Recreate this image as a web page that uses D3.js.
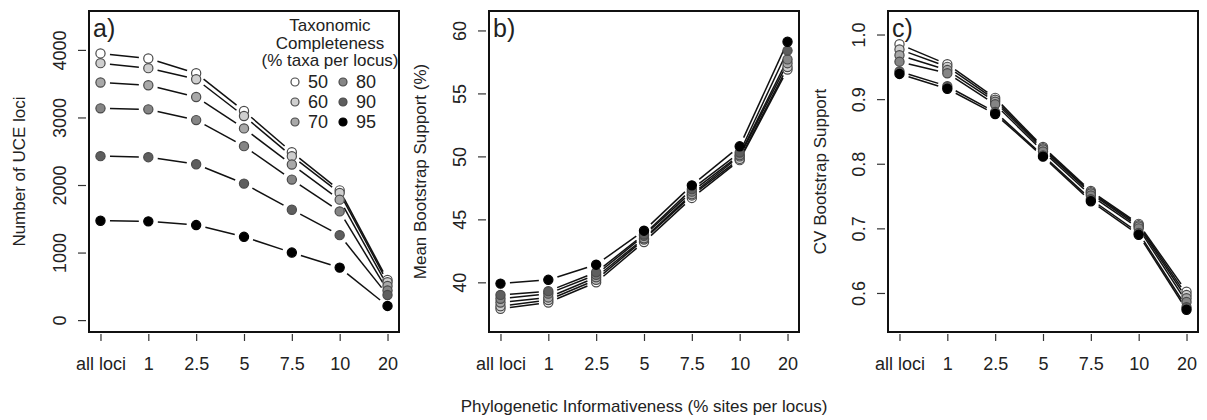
<!DOCTYPE html>
<html>
<head>
<meta charset="utf-8">
<script src="https://cdn.jsdelivr.net/npm/d3@7"></script>
<style>
  html, body { margin: 0; padding: 0; background: #fff; }
  svg { display: block; }
  text { font-family: "Liberation Sans", Arial, Helvetica, sans-serif; fill: #222; }
</style>
</head>
<body>
<svg id="fig" width="1207" height="420"></svg>
<script>
// Phylogenetic informativeness bins (x categories)
const categories = ["all loci", "1", "2.5", "5", "7.5", "10", "20"];

// Taxonomic completeness levels (% taxa per locus)
const completeness = [50, 60, 70, 80, 90, 95];
const fills = ["#ffffff", "#cfcfcf", "#a8a8a8", "#858585", "#5e5e5e", "#000000"];

// a) Number of UCE loci
const loci50 = [3948, 3873, 3655, 3095, 2486, 1921, 594];
const loci60 = [3804, 3730, 3566, 3021, 2427, 1883, 560];
const loci70 = [3517, 3477, 3303, 2838, 2303, 1783, 505];
const loci80 = [3135, 3120, 2961, 2575, 2080, 1609, 440];
const loci90 = [2427, 2412, 2308, 2021, 1634, 1258, 371];
const loci95 = [1471, 1462, 1407, 1233, 1000, 777, 210];

// b) Mean bootstrap support (%)
const mean50 = [37.9, 38.4, 40.0, 43.2, 46.7, 49.7, 56.9];
const mean60 = [38.1, 38.6, 40.2, 43.4, 46.9, 49.8, 57.1];
const mean70 = [38.4, 38.8, 40.4, 43.5, 47.0, 50.0, 57.4];
const mean80 = [38.7, 39.1, 40.6, 43.7, 47.2, 50.1, 57.7];
const mean90 = [39.0, 39.3, 40.8, 43.8, 47.4, 50.3, 58.4];
const mean95 = [39.9, 40.2, 41.4, 44.1, 47.7, 50.8, 59.1];

// c) Coefficient of variation of bootstrap support
const cv50 = [0.985, 0.954, 0.902, 0.826, 0.758, 0.707, 0.602];
const cv60 = [0.977, 0.950, 0.899, 0.824, 0.756, 0.705, 0.597];
const cv70 = [0.968, 0.945, 0.896, 0.822, 0.754, 0.703, 0.592];
const cv80 = [0.958, 0.940, 0.892, 0.819, 0.751, 0.700, 0.586];
const cv90 = [0.943, 0.920, 0.880, 0.813, 0.745, 0.693, 0.578];
const cv95 = [0.939, 0.916, 0.877, 0.811, 0.742, 0.690, 0.574];

// Axis ticks and limits
const ticksA = [0, 1000, 2000, 3000, 4000];
const ticksB = [40, 45, 50, 55, 60];
const ticksC = [0.6, 0.7, 0.8, 0.9, 1.0];
const limA = [0, 4400];
const limB = [37, 60.6];
const limC = [0.558, 1.018];

const panels = [
  { tag: "a)", left: 89,  title: "Number of UCE loci",          titleX: 19,  tickX: 60,
    series: [loci50, loci60, loci70, loci80, loci90, loci95], lim: limA, ticks: ticksA, fmt: d3.format("d") },
  { tag: "b)", left: 489, title: "Mean Bootstrap Support (%)",  titleX: 420, tickX: 460,
    series: [mean50, mean60, mean70, mean80, mean90, mean95], lim: limB, ticks: ticksB, fmt: d3.format("d") },
  { tag: "c)", left: 888, title: "CV Bootstrap Support",        titleX: 820, tickX: 859,
    series: [cv50, cv60, cv70, cv80, cv90, cv95], lim: limC, ticks: ticksC, fmt: d3.format(".1f") }
];

const plotTop = 11, plotBottom = 332, plotWidth = 310;
const R = 4.6, GAP = 9.5;
const svg = d3.select("#fig");

// R-style 4% padding around axis limits
function padded(lim) {
  const d = lim[1] - lim[0];
  return [lim[0] - 0.04 * d, lim[1] + 0.04 * d];
}

panels.forEach(p => {
  const g = svg.append("g");
  const x = d3.scaleLinear().domain([-0.24, categories.length - 1 + 0.24]).range([p.left, p.left + plotWidth]);
  const y = d3.scaleLinear().domain(padded(p.lim)).range([plotBottom, plotTop]);

  // Series: line segments broken around each point, then the points
  p.series.forEach(vals => {
    const pts = vals.map((v, i) => [x(i), y(v)]);
    for (let i = 0; i < pts.length - 1; i++) {
      const [x0, y0] = pts[i], [x1, y1] = pts[i + 1];
      const len = Math.hypot(x1 - x0, y1 - y0);
      if (len <= 2 * GAP) continue;
      const ux = (x1 - x0) / len, uy = (y1 - y0) / len;
      g.append("line")
        .attr("x1", x0 + ux * GAP).attr("y1", y0 + uy * GAP)
        .attr("x2", x1 - ux * GAP).attr("y2", y1 - uy * GAP)
        .attr("stroke", "#111").attr("stroke-width", 1.5);
    }
  });
  p.series.forEach((vals, si) => {
    g.selectAll(null).data(vals).enter().append("circle")
      .attr("cx", (d, i) => x(i)).attr("cy", d => y(d)).attr("r", R)
      .attr("fill", fills[si])
      .attr("stroke", si === 5 ? "#000" : "#4a4a4a").attr("stroke-width", 1.2);
  });

  // Frame
  g.append("rect").attr("x", p.left).attr("y", plotTop)
    .attr("width", plotWidth).attr("height", plotBottom - plotTop)
    .attr("fill", "none").attr("stroke", "#111").attr("stroke-width", 2);

  // x axis: ticks + labels
  const xa = g.append("g").attr("transform", `translate(0,${plotBottom + 2})`)
    .call(d3.axisBottom(x).tickValues(d3.range(categories.length))
      .tickFormat(i => categories[i]).tickSize(7).tickPadding(16));
  xa.select(".domain").remove();
  xa.selectAll(".tick line").attr("stroke", "#333").attr("stroke-width", 1.2);
  xa.selectAll(".tick text").attr("font-size", 18).attr("fill", "#222")
    .attr("font-family", "'Liberation Sans', Arial, sans-serif");

  // y axis: ticks + rotated labels
  const ya = g.append("g").attr("transform", `translate(${p.left - 3},0)`)
    .call(d3.axisLeft(y).tickValues(p.ticks).tickFormat(p.fmt).tickSize(8));
  ya.select(".domain").remove();
  ya.selectAll(".tick line").attr("stroke", "#333").attr("stroke-width", 1.2);
  ya.selectAll(".tick text").remove();
  ya.selectAll(".tick").append("text")
    .attr("transform", `translate(${p.tickX - (p.left - 3)},0) rotate(-90)`)
    .attr("text-anchor", "middle").attr("dy", "0.35em")
    .attr("font-size", 18).attr("fill", "#222")
    .attr("font-family", "'Liberation Sans', Arial, sans-serif")
    .text(d => p.fmt(d));

  // y axis title
  g.append("text")
    .attr("transform", `translate(${p.titleX},${(plotTop + plotBottom) / 2}) rotate(-90)`)
    .attr("text-anchor", "middle").attr("dy", "0.35em")
    .attr("font-size", 17).text(p.title);

  // panel tag
  g.append("text").attr("x", p.left + 4).attr("y", 37)
    .attr("font-size", 25).attr("fill", "#111").text(p.tag);
});

// Shared x axis title
svg.append("text").attr("x", 644).attr("y", 412)
  .attr("text-anchor", "middle").attr("font-size", 17)
  .text("Phylogenetic Informativeness (% sites per locus)");

// Legend inside panel a
const lg = svg.append("g");
["Taxonomic", "Completeness", "(% taxa per locus)"].forEach((t, i) => {
  lg.append("text").attr("x", 330).attr("y", 31 + i * 17.5)
    .attr("text-anchor", "middle").attr("font-size", 17).text(t);
});
completeness.forEach((c, i) => {
  const col = Math.floor(i / 3), row = i % 3;
  const cx = 295 + col * 48, cy = 82 + row * 20;
  lg.append("circle").attr("cx", cx).attr("cy", cy).attr("r", 4)
    .attr("fill", fills[i]).attr("stroke", i === 5 ? "#000" : "#4a4a4a").attr("stroke-width", 1.2);
  lg.append("text").attr("x", cx + 13).attr("y", cy).attr("dy", "0.35em")
    .attr("font-size", 18).text(c);
});
</script>
</body>
</html>
